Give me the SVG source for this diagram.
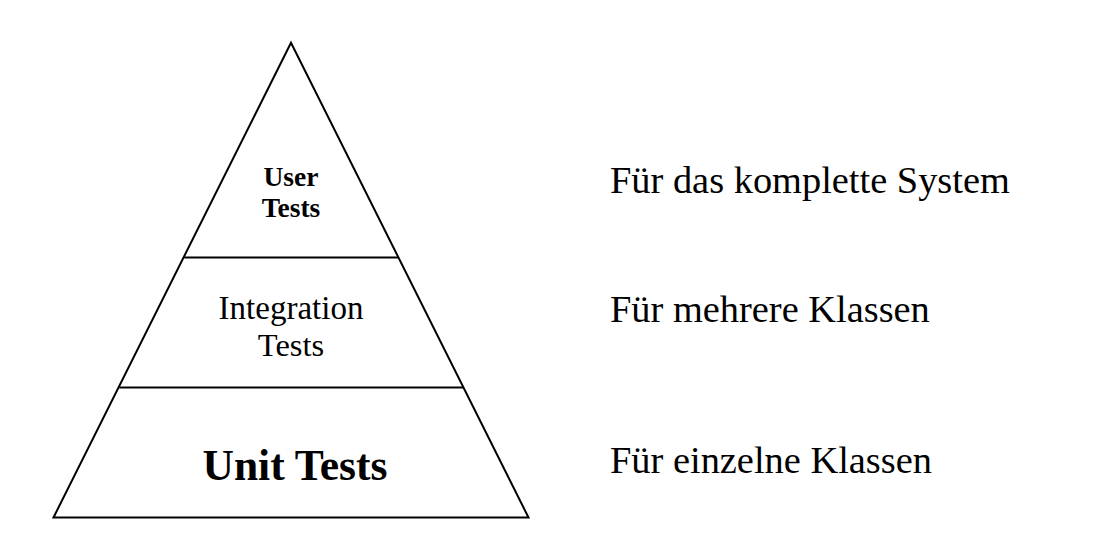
<svg xmlns="http://www.w3.org/2000/svg" width="1096" height="538" viewBox="0 0 1096 538">
<style>
.ln{fill:none;stroke:#000;stroke-width:2}
.t{font-family:"Liberation Serif","Times New Roman",serif;fill:#000}
.b{font-weight:bold}
.m{text-anchor:middle}
</style>
<rect width="1096" height="538" fill="#fff"/>
<g id="pyramid">
<polygon class="ln" points="291,42.7 53.5,517.5 528.5,517.5" stroke-linejoin="miter"/>
</g>
<g id="connectors">
<line class="ln" x1="184.3" y1="257.5" x2="398.2" y2="257.5"/>
<line class="ln" x1="119.3" y1="387.5" x2="463.5" y2="387.5"/>
</g>
<g id="user-tests">
<text class="t b m" x="291" y="186" font-size="27.5">User</text>
<text class="t b m" x="291" y="217" font-size="27.5">Tests</text>
</g>
<g id="integration-tests">
<text class="t m" x="291" y="319" font-size="33">Integration</text>
<text class="t m" x="291" y="356" font-size="32.5">Tests</text>
</g>
<g id="unit-tests">
<text class="t b m" x="295" y="480" font-size="43.5">Unit Tests</text>
</g>
<g id="label-system">
<text class="t" x="610" y="193" font-size="38.4">Für das komplette System</text>
</g>
<g id="label-mehrere">
<text class="t" x="610" y="322" font-size="38.4">Für mehrere Klassen</text>
</g>
<g id="label-einzelne">
<text class="t" x="610" y="473" font-size="38.4">Für einzelne Klassen</text>
</g>
</svg>
